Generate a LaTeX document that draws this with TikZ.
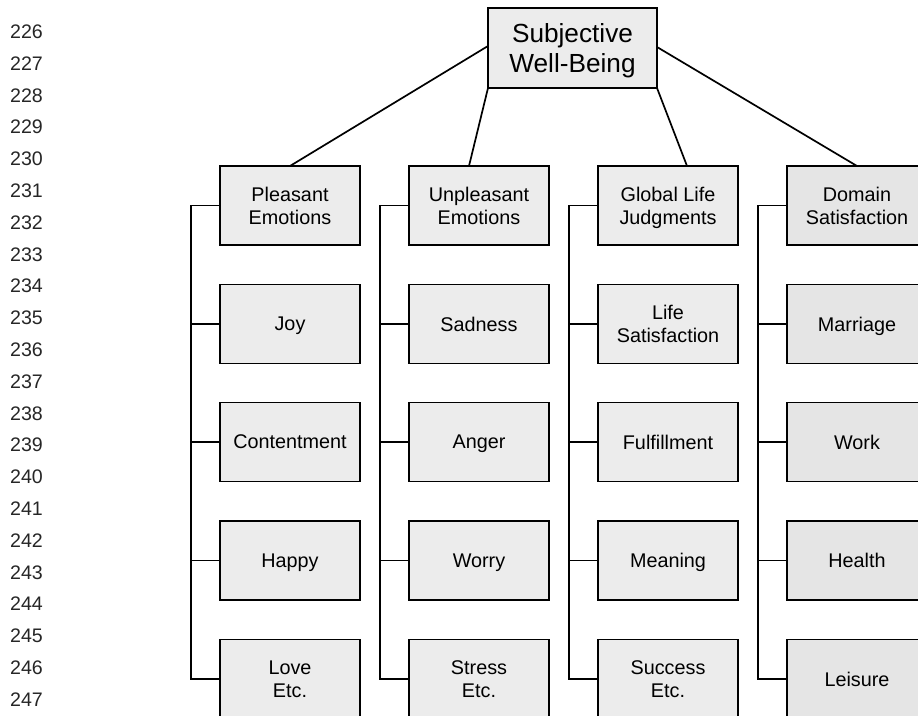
\documentclass[tikz,border=0pt]{standalone}
\usepackage{fontspec}
\setmainfont{Liberation Sans}
\usepackage{tikz}

\begin{document}
\begin{tikzpicture}[x=1pt,y=-1pt]
  \tikzset{BoxStyle/.style = {
    shape         = rectangle,
    draw          = black,
    fill          = gray!15,
    line width    = 1.7pt,
    text          = black,
    align         = center,
    font          = \fontsize{19.8}{22.7}\selectfont,
    text depth    = 0pt,
    inner sep     = 0pt,
    outer sep     = 0pt,
    minimum width = 140pt,
    minimum height= 79pt
    }
  }
  \tikzset{TopStyle/.style = {
    BoxStyle,
    font          = \fontsize{26.2}{30}\selectfont,
    minimum width = 169pt,
    minimum height= 80pt
    }
  }
  \tikzset{EdgeStyle/.style = {
    draw          = black,
    line width    = 1.7pt
    }
  }
  \tikzset{NumStyle/.style = {
    anchor        = west,
    inner sep     = 0pt,
    text          = black!85,
    font          = \fontsize{19.6}{22}\selectfont
    }
  }

  \useasboundingbox (0,0) rectangle (918,715);

  % line numbers
  \node[NumStyle](N226) at (10, 31.7) {226};
  \node[NumStyle](N227) at (10, 63.5) {227};
  \node[NumStyle](N228) at (10, 95.3) {228};
  \node[NumStyle](N229) at (10, 127.1) {229};
  \node[NumStyle](N230) at (10, 158.9) {230};
  \node[NumStyle](N231) at (10, 190.7) {231};
  \node[NumStyle](N232) at (10, 222.5) {232};
  \node[NumStyle](N233) at (10, 254.3) {233};
  \node[NumStyle](N234) at (10, 286.1) {234};
  \node[NumStyle](N235) at (10, 317.9) {235};
  \node[NumStyle](N236) at (10, 349.7) {236};
  \node[NumStyle](N237) at (10, 381.5) {237};
  \node[NumStyle](N238) at (10, 413.3) {238};
  \node[NumStyle](N239) at (10, 445.1) {239};
  \node[NumStyle](N240) at (10, 476.9) {240};
  \node[NumStyle](N241) at (10, 508.7) {241};
  \node[NumStyle](N242) at (10, 540.5) {242};
  \node[NumStyle](N243) at (10, 572.3) {243};
  \node[NumStyle](N244) at (10, 604.1) {244};
  \node[NumStyle](N245) at (10, 635.9) {245};
  \node[NumStyle](N246) at (10, 667.7) {246};
  \node[NumStyle](N247) at (10, 699.5) {247};

  % boxes
  \node[TopStyle](A1) at (572.5, 48) {Subjective\\Well-Being};
  \node[BoxStyle](B1) at (290, 205.5) {Pleasant\\Emotions};
  \node[BoxStyle](B2) at (479, 205.5) {Unpleasant\\Emotions};
  \node[BoxStyle](B3) at (668, 205.5) {Global Life\\Judgments};
  \node[BoxStyle,fill=gray!20](B4) at (857, 205.5) {Domain\\Satisfaction};
  \node[BoxStyle](C1) at (290, 324) {Joy};
  \node[BoxStyle](C2) at (479, 324) {Sadness};
  \node[BoxStyle](C3) at (668, 324) {Life\\Satisfaction};
  \node[BoxStyle,fill=gray!20](C4) at (857, 324) {Marriage};
  \node[BoxStyle](D1) at (290, 442) {Contentment};
  \node[BoxStyle](D2) at (479, 442) {Anger};
  \node[BoxStyle](D3) at (668, 442) {Fulfillment};
  \node[BoxStyle,fill=gray!20](D4) at (857, 442) {Work};
  \node[BoxStyle](E1) at (290, 560.5) {Happy};
  \node[BoxStyle](E2) at (479, 560.5) {Worry};
  \node[BoxStyle](E3) at (668, 560.5) {Meaning};
  \node[BoxStyle,fill=gray!20](E4) at (857, 560.5) {Health};
  \node[BoxStyle](F1) at (290, 679) {Love\\Etc.};
  \node[BoxStyle](F2) at (479, 679) {Stress\\Etc.};
  \node[BoxStyle](F3) at (668, 679) {Success\\Etc.};
  \node[BoxStyle,fill=gray!20](F4) at (857, 679) {Leisure};

  % top level
  \draw[EdgeStyle]([yshift=2pt]A1.west) to (B1.north);
  \draw[EdgeStyle](A1.south west) to ([xshift=-10pt]B2.north);
  \draw[EdgeStyle](A1.south east) to ([xshift=19pt]B3.north);
  \draw[EdgeStyle]([yshift=1pt]A1.east) to (B4.north);

  % spines
  \draw[EdgeStyle](B1.west) -- ++(-29,0) |- (F1.west);
  \draw[EdgeStyle](C1.west) -- ++(-29,0);
  \draw[EdgeStyle](D1.west) -- ++(-29,0);
  \draw[EdgeStyle](E1.west) -- ++(-29,0);
  \draw[EdgeStyle](B2.west) -- ++(-29,0) |- (F2.west);
  \draw[EdgeStyle](C2.west) -- ++(-29,0);
  \draw[EdgeStyle](D2.west) -- ++(-29,0);
  \draw[EdgeStyle](E2.west) -- ++(-29,0);
  \draw[EdgeStyle](B3.west) -- ++(-29,0) |- (F3.west);
  \draw[EdgeStyle](C3.west) -- ++(-29,0);
  \draw[EdgeStyle](D3.west) -- ++(-29,0);
  \draw[EdgeStyle](E3.west) -- ++(-29,0);
  \draw[EdgeStyle](B4.west) -- ++(-29,0) |- (F4.west);
  \draw[EdgeStyle](C4.west) -- ++(-29,0);
  \draw[EdgeStyle](D4.west) -- ++(-29,0);
  \draw[EdgeStyle](E4.west) -- ++(-29,0);

\end{tikzpicture}
\end{document}
